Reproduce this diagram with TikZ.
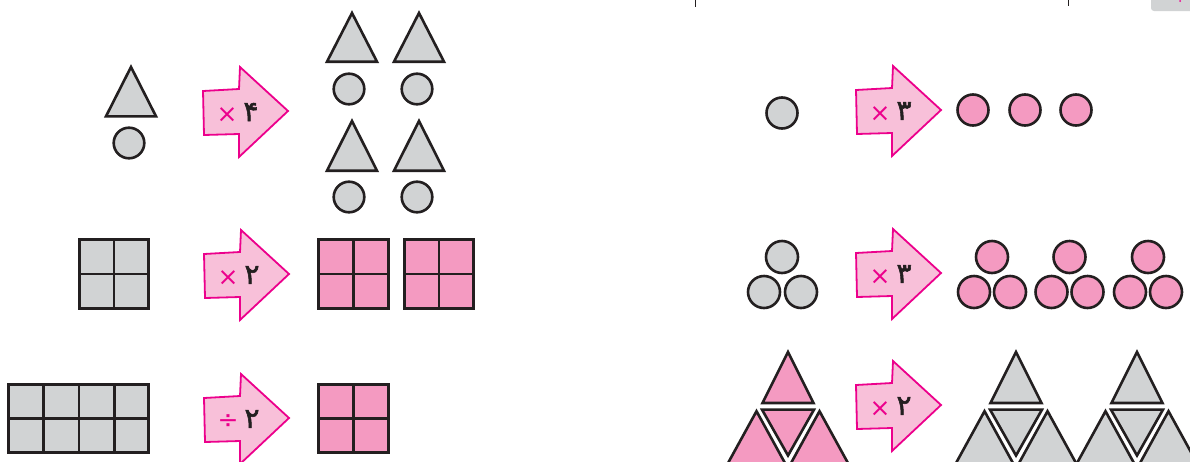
\documentclass[tikz,border=0pt]{standalone}
\usepackage{fontspec}
\newfontfamily\opfont{DejaVu Sans}
\newfontfamily\digfont[Script=Arabic,FakeBold=2]{DejaVu Sans}
\definecolor{lineblack}{HTML}{231F20}
\definecolor{shapegray}{HTML}{D1D3D4}
\definecolor{shapepink}{HTML}{F49AC1}
\definecolor{arrowpink}{HTML}{F8C0D9}
\definecolor{arrowedge}{HTML}{EC008C}
\tikzset{
  blk/.style={draw=lineblack, line width=2.6pt, line join=miter},
  gfill/.style={blk, fill=shapegray},
  pfill/.style={blk, fill=shapepink},
  arrowbox/.style={draw=arrowedge, fill=arrowpink, line width=1.8pt, line join=miter},
  optext/.style={inner sep=0pt, text=arrowedge, font=\opfont\fontsize{25}{25}\selectfont},
  digtext/.style={inner sep=0pt, text=lineblack, font=\digfont\fontsize{28}{28}\selectfont},
}
% #1 name, #2 left x, #3 centre y, #4 operator, #5 digit
\newcommand\oparrow[5]{%
  \draw[arrowbox] (#2,#3-20) -- (#2+36,#3-22) -- (#2+37,#3-44) -- (#2+85,#3)
    -- (#2+36,#3+46) -- (#2+36,#3+23) -- (#2+1,#3+24) -- cycle;
  \node[optext] (#1op) at (#2+24,#3+4) {#4};
  \node[digtext] (#1dig) at (#2+48,#3+1) {#5};
}
% upright triangle: apex x, apex y, half width, base y, style
\newcommand\uptri[5]{\draw[#5] (#1,#2) -- (#1-#3,#4) -- (#1+#3,#4) -- cycle;}
% triangle cluster centred at x #1, style #2
\newcommand\tricluster[2]{%
  \draw[#2] (#1,352) -- (#1-25.5,403) -- (#1+25.5,403) -- cycle;
  \draw[#2] (#1-26,409.6) -- (#1+26,409.6) -- (#1,455.5) -- cycle;
  \draw[#2] (#1-31.5,411.2) -- (#1-60.5,464) -- (#1-2.5,464) -- cycle;
  \draw[#2] (#1+31.5,411.2) -- (#1+2.5,464) -- (#1+60.5,464) -- cycle;
}
\begin{document}
\begin{tikzpicture}[x=1pt,y=-1pt]
\useasboundingbox (0,0) rectangle (1190,461);
\clip (0,0) rectangle (1190,461);
\fill[white] (0,0) rectangle (1190,461);
% top cropped fragments
\fill[shapegray, rounded corners=3pt] (1151,-5) rectangle (1195,11);
\fill[arrowedge] (1180,1) circle[radius=1];
\draw[lineblack, line width=0.8pt] (695,0) -- (695,7);
\draw[lineblack, line width=0.8pt] (1068,0) -- (1068,6);
% ---------- left column ----------
% row 1
\uptri{131}{67}{25}{116.3}{gfill}
\draw[gfill] (129,143) circle[radius=15.3];
\oparrow{a}{203}{111}{×}{۴}
\uptri{352}{13}{25}{61.7}{gfill}
\uptri{419}{13}{25}{61.7}{gfill}
\draw[gfill] (349,89) circle[radius=15.3];
\draw[gfill] (417,89) circle[radius=15.3];
\uptri{352}{121}{25}{170.7}{gfill}
\uptri{419}{121}{25}{170.7}{gfill}
\draw[gfill] (349,197) circle[radius=15.3];
\draw[gfill] (417,197) circle[radius=15.3];
% row 2
\draw[gfill] (79.3,239.3) rectangle (148.7,308.7);
\draw[blk] (114,239.3) -- (114,308.7) (79.3,274) -- (148.7,274);
\oparrow{b}{204}{274}{×}{۲}
\draw[pfill] (318.3,239.3) rectangle (388.7,308.7);
\draw[blk] (353.5,239.3) -- (353.5,308.7) (318.3,274) -- (388.7,274);
\draw[pfill] (404.3,239.3) rectangle (473.7,308.7);
\draw[blk] (439,239.3) -- (439,308.7) (404.3,274) -- (473.7,274);
% row 3
\draw[gfill] (8.3,384.3) rectangle (148.7,452.7);
\draw[blk] (43.5,384.3) -- (43.5,452.7) (79,384.3) -- (79,452.7) (114.5,384.3) -- (114.5,452.7)
  (8.3,418.5) -- (148.7,418.5);
\oparrow{c}{204}{418}{÷}{۲}
\draw[pfill] (318.3,384.3) rectangle (388.7,452.7);
\draw[blk] (353.5,384.3) -- (353.5,452.7) (318.3,418.5) -- (388.7,418.5);
% ---------- right column ----------
% row 1
\draw[gfill] (782,113) circle[radius=15.5];
\oparrow{d}{856}{110}{×}{۳}
\draw[pfill] (973,110) circle[radius=15.5];
\draw[pfill] (1025,110) circle[radius=15.5];
\draw[pfill] (1076,110) circle[radius=15.5];
% row 2
\draw[gfill] (782,257) circle[radius=16];
\draw[gfill] (764,292) circle[radius=16];
\draw[gfill] (801,292) circle[radius=16];
\oparrow{e}{856}{273}{×}{۳}
\foreach \gx in {992,1069.5,1148}{
  \draw[pfill] (\gx,257) circle[radius=16];
  \draw[pfill] (\gx-18,292) circle[radius=16];
  \draw[pfill] (\gx+18,292) circle[radius=16];
}
% row 3
\tricluster{788}{pfill}
\oparrow{f}{856}{405}{×}{۲}
\tricluster{1016}{gfill}
\tricluster{1137}{gfill}
\end{tikzpicture}
\end{document}
